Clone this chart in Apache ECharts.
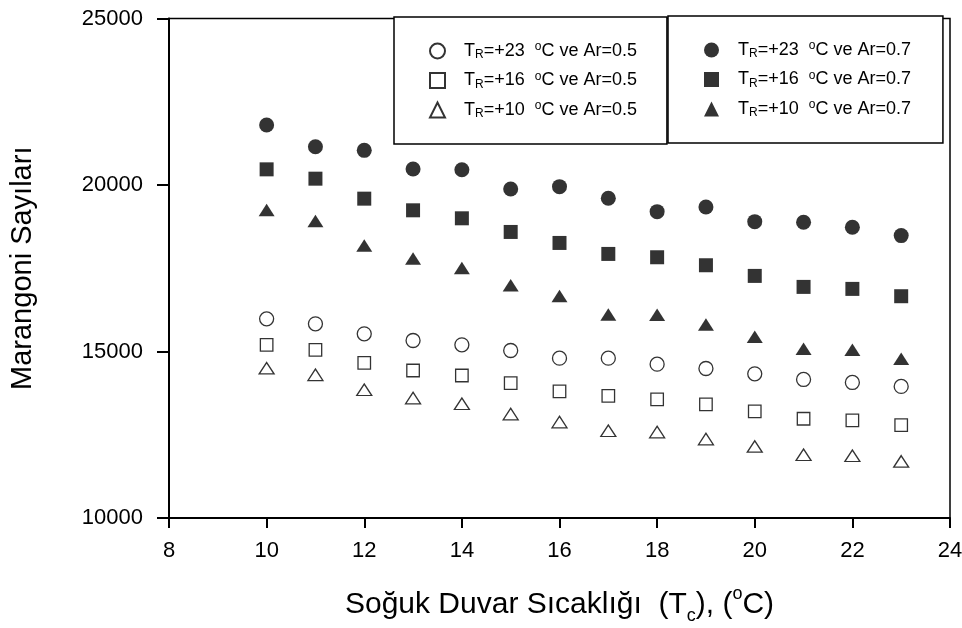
<!DOCTYPE html>
<html>
<head>
<meta charset="utf-8">
<script src="https://cdn.jsdelivr.net/npm/echarts@6/dist/echarts.min.js"></script>
<style>
  html, body { margin: 0; padding: 0; background: #fff; }
  #chart { width: 962px; height: 628px; }
</style>
</head>
<body>
<div id="chart"></div>
<script>
// soğuk duvar sıcaklığı (x)
var tcValues = [10, 11, 12, 13, 14, 15, 16, 17, 18, 19, 20, 21, 22, 23];
// Ar=0.5 (boş semboller)
var tr23Ar05 = [15980, 15830, 15530, 15330, 15200, 15030, 14800, 14800, 14620, 14490, 14330, 14160, 14070, 13950];
var tr16Ar05 = [15200, 15050, 14660, 14430, 14280, 14050, 13800, 13670, 13560, 13410, 13200, 12980, 12930, 12790];
var tr10Ar05 = [14500, 14300, 13850, 13600, 13430, 13120, 12880, 12620, 12580, 12370, 12150, 11900, 11870, 11700];
// Ar=0.7 (dolu semboller)
var tr23Ar07 = [21800, 21150, 21040, 20480, 20460, 19880, 19950, 19600, 19200, 19340, 18900, 18880, 18730, 18480];
var tr16Ar07 = [20470, 20190, 19590, 19240, 19000, 18590, 18260, 17930, 17830, 17590, 17270, 16940, 16880, 16660];
var tr10Ar07 = [19250, 18920, 18180, 17790, 17510, 16990, 16670, 16110, 16100, 15810, 15440, 15080, 15050, 14780];
// seri adları
var seriesNames = ['23_0.5', '16_0.5', '10_0.5', '23_0.7', '16_0.7', '10_0.7'];
var xTicks = [8, 24, 2];
var yTicks = [10000, 25000, 5000];

var font = 'Liberation Sans, Arial, sans-serif';

function pairs(vals) {
  return tcValues.map(function (x, i) { return [x, vals[i]]; });
}

function scatter(name, vals, symbol, size, filled) {
  return {
    name: name,
    type: 'scatter',
    symbol: symbol,
    symbolSize: size,
    data: pairs(vals),
    itemStyle: filled
      ? { color: '#000', borderWidth: 0 }
      : { color: '#fff', borderColor: '#000', borderWidth: 1.3 }
  };
}

// legend yazısı: T_R=+23 °C ve Ar=0.5
function legendText(name) {
  var p = name.split('_');
  return 'T{sub|R}=+' + p[0] + '  {sup|o}C ve Ar=' + p[1];
}

var legendRich = {
  sub: { fontSize: 12, lineHeight: 9, verticalAlign: 'bottom', fontFamily: font, color: '#000' },
  sup: { fontSize: 12, lineHeight: 4, verticalAlign: 'top', fontFamily: font, color: '#000' }
};

function legendBox(left, top, names, padLeft, padRight) {
  return {
    orient: 'vertical',
    left: left,
    top: top,
    data: names,
    selectedMode: false,
    itemWidth: 15,
    itemHeight: 15,
    itemGap: 9.5,
    padding: [24, padRight, 24, padLeft],
    borderColor: '#000',
    borderWidth: 1.5,
    backgroundColor: '#fff',
    formatter: legendText,
    textStyle: {
      fontSize: 18,
      fontFamily: font,
      color: '#000',
      lineHeight: 20,
      padding: [0, 0, 0, 14],
      rich: legendRich
    }
  };
}

var chart = echarts.init(document.getElementById('chart'));
chart.setOption({
  animation: false,
  backgroundColor: '#fff',
  grid: {
    left: 169, right: 12, top: 18.5, bottom: 110,
    outerBoundsMode: 'none',
    show: true, borderColor: '#000', borderWidth: 1.5
  },
  legend: [
    legendBox(394, 17, seriesNames.slice(0, 3), 35, 30),
    legendBox(668, 16, seriesNames.slice(3), 36, 32)
  ],
  xAxis: {
    type: 'value',
    min: xTicks[0], max: xTicks[1], interval: xTicks[2],
    name: 'Soğuk Duvar Sıcaklığı  (T{sub|c}), ({sup|o}C)',
    nameLocation: 'middle',
    nameGap: 67,
    nameTextStyle: {
      fontSize: 30, fontFamily: font, color: '#000', lineHeight: 40,
      rich: {
        sub: { fontSize: 18, lineHeight: 21, verticalAlign: 'bottom', fontFamily: font, color: '#000' },
        sup: { fontSize: 18, lineHeight: 15, verticalAlign: 'top', fontFamily: font, color: '#000' }
      }
    },
    axisLine: { lineStyle: { color: '#000', width: 2 } },
    axisTick: { inside: false, length: 10, lineStyle: { color: '#000', width: 2 } },
    axisLabel: { fontSize: 22, fontFamily: font, color: '#000', margin: 22, formatter: function (v) { return String(v); } },
    splitLine: { show: false }
  },
  yAxis: {
    type: 'value',
    min: yTicks[0], max: yTicks[1], interval: yTicks[2],
    name: 'Marangoni Sayıları',
    nameLocation: 'middle',
    nameRotate: 90,
    nameGap: 132,
    nameTextStyle: { fontSize: 29, fontFamily: font, color: '#000' },
    axisLine: { lineStyle: { color: '#000', width: 2 } },
    axisTick: { inside: false, length: 12, lineStyle: { color: '#000', width: 2 } },
    axisLabel: { fontSize: 22, fontFamily: font, color: '#000', margin: 26, formatter: function (v) { return String(v); } },
    splitLine: { show: false }
  },
  series: [
    scatter(seriesNames[0], tr23Ar05, 'circle', 14, false),
    scatter(seriesNames[1], tr16Ar05, 'rect', 12.5, false),
    scatter(seriesNames[2], tr10Ar05, 'triangle', [15, 11.5], false),
    scatter(seriesNames[3], tr23Ar07, 'circle', 15, true),
    scatter(seriesNames[4], tr16Ar07, 'rect', 14, true),
    scatter(seriesNames[5], tr10Ar07, 'triangle', [16, 12.5], true)
  ]
});
</script>
</body>
</html>
